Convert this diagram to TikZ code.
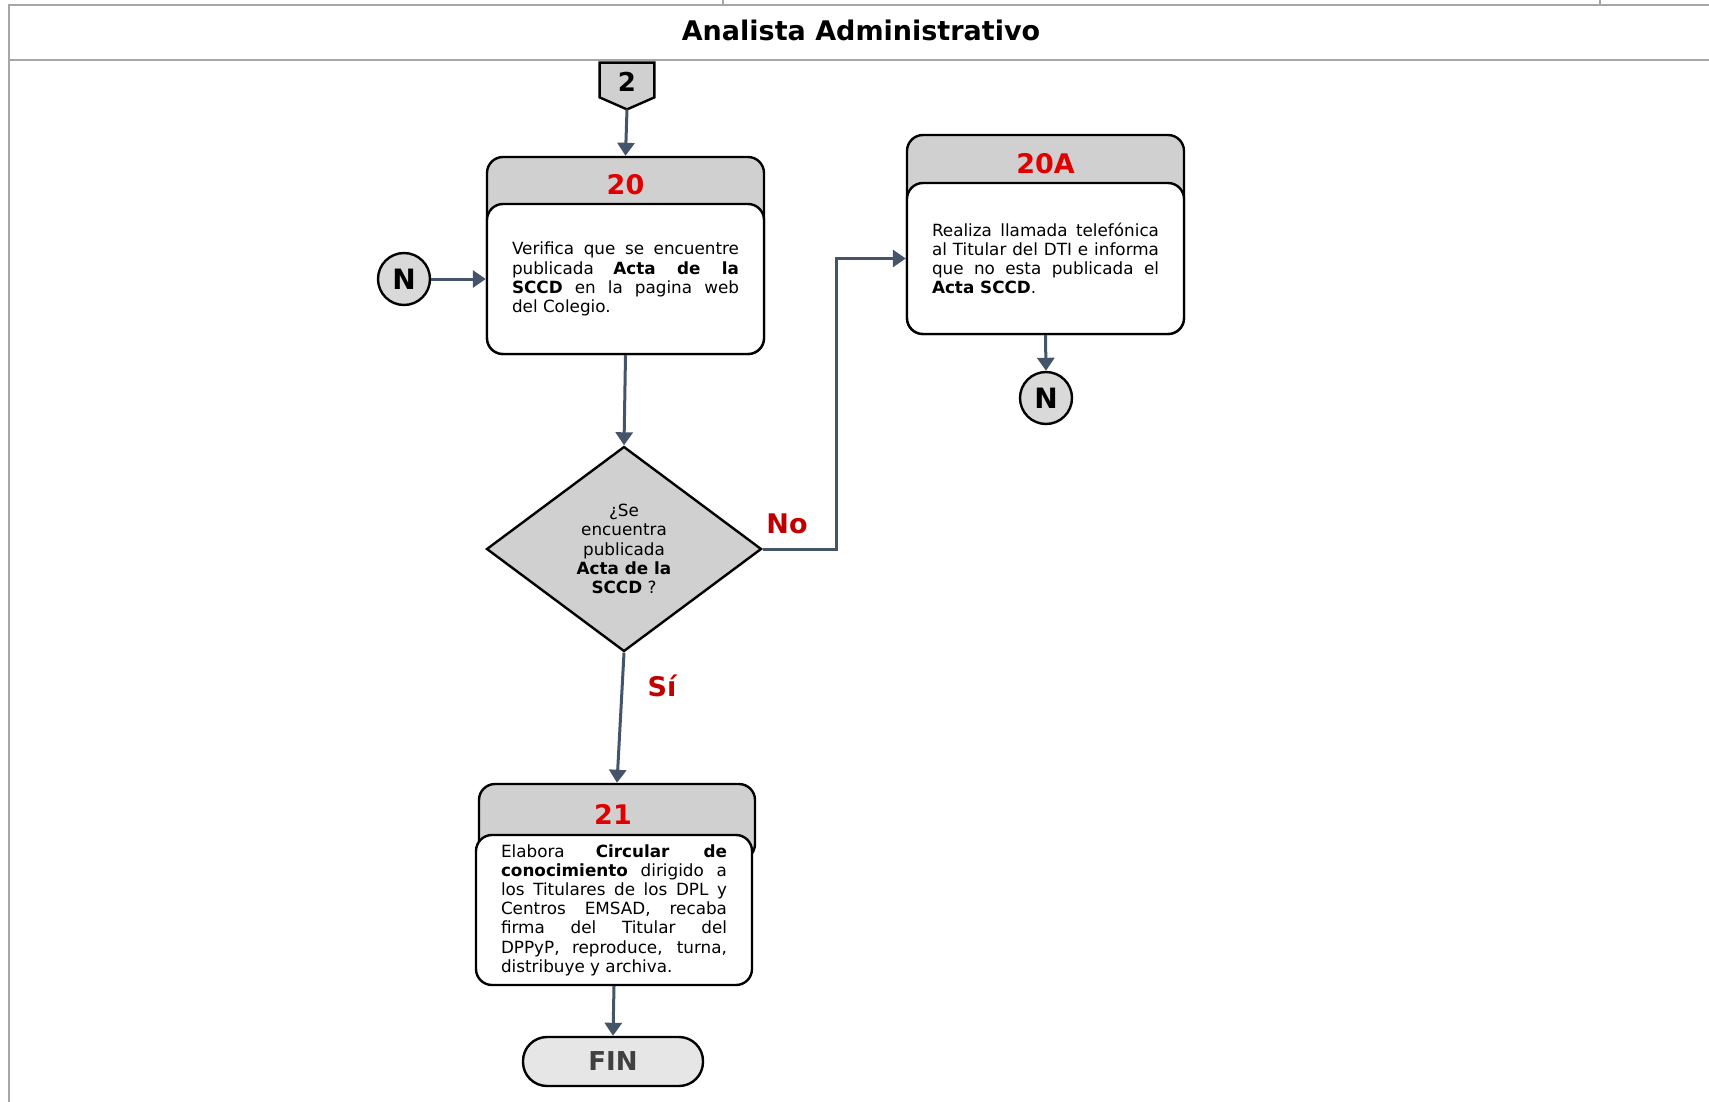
\documentclass[tikz,border=0pt]{standalone}
\usepackage{fontspec}
\setmainfont{DejaVu Sans}
\usetikzlibrary{arrows.meta,shapes.geometric}

\definecolor{framegray}{HTML}{A6A6A6}
\definecolor{hdrgray}{HTML}{D0D0D0}
\definecolor{circgray}{HTML}{D9D9D9}
\definecolor{fingray}{HTML}{E6E6E6}
\definecolor{fintext}{HTML}{404040}
\definecolor{flowc}{HTML}{44546A}
\definecolor{numred}{HTML}{E00000}
\definecolor{ansred}{HTML}{C00000}

\newcommand\bodyfont{\fontsize{8.4}{9.6}\selectfont}

\begin{document}
\begin{tikzpicture}[x=0.5pt,y=-0.5pt,
  hdrbox/.style={draw=black,fill=hdrgray,line width=1.2pt,rounded corners=8pt,
    minimum width=138.5pt,inner sep=0pt},
  bodybox/.style={draw=black,fill=white,line width=1.2pt,rounded corners=8pt,
    text width=113.5pt,inner xsep=12.5pt,inner ysep=0pt,minimum height=75pt,
    align=justify,font=\bodyfont},
  stepnum/.style={text=numred,font=\fontsize{13.5}{15}\selectfont\bfseries},
  answer/.style={text=ansred,font=\fontsize{13.5}{15}\selectfont\bfseries},
  conn/.style={circle,draw=black,fill=circgray,line width=1.2pt,minimum size=26pt,
    inner sep=0pt,font=\fontsize{14}{16}\selectfont\bfseries},
  flow/.style={draw=flowc,line width=1.5pt,-{Triangle[length=6.5pt,width=8.5pt]}},
  frameline/.style={draw=framegray,line width=1.2pt}]

\useasboundingbox (0,0) rectangle (1709,1102);

% page frame and lane header
\draw[frameline] (9,1102) -- (9,5) -- (1709,5);
\draw[frameline] (9,60) -- (1709,60);
\draw[frameline] (723,0) -- (723,5);
\draw[frameline] (1600,0) -- (1600,5);
\node[font=\fontsize{13.5}{15}\selectfont\bfseries] (title) at (861,30) {Analista Administrativo};

% off-page connector 2
\node[minimum width=27pt,minimum height=23pt,inner sep=0pt] (off2) at (627,86) {};
\draw[draw=black,fill=hdrgray,line width=1.2pt]
  (off2.north west) -- (off2.north east) -- ([yshift=6pt]off2.south east)
  -- (off2.south) -- ([yshift=6pt]off2.south west) -- cycle;
\node[font=\fontsize{13}{15}\selectfont\bfseries] (off2txt) at (627,82) {2};

% step 20
\node[hdrbox,minimum height=98.5pt] (b20) at (625.5,255.5) {};
\node[bodybox] (t20) at (625.5,279) {Verifica que se encuentre\linebreak
  publicada \textbf{Acta de la}\linebreak \textbf{SCCD} en la pagina web\linebreak
  del Colegio.};
\node[stepnum] (n20) at (625.5,185) {20};

% step 20A
\node[hdrbox,minimum height=99.5pt] (b20a) at (1045.5,234.5) {};
\node[bodybox,minimum height=75.5pt] (t20a) at (1045.5,258.5) {Realiza llamada telefónica\linebreak
  al Titular del DTI e informa\linebreak que no esta publicada el\linebreak
  \textbf{Acta SCCD}.};
\node[stepnum] (n20a) at (1045.5,164) {20A};

% decision
\node[diamond,draw=black,fill=hdrgray,line width=1.2pt,minimum width=137.5pt,
  minimum height=102.5pt,inner sep=0pt,align=center,font=\bodyfont] (dec) at (624,549)
  {¿Se\\encuentra\\publicada\\\textbf{Acta de la}\\\textbf{SCCD} ?};

% step 21
\node[hdrbox,minimum width=138pt,minimum height=38pt] (b21) at (617,822) {};
\node[bodybox,text width=113pt] (t21) at (614,910) {Elabora \textbf{Circular de}\linebreak
  \textbf{conocimiento} dirigido a\linebreak los Titulares de los DPL y\linebreak
  Centros EMSAD, recaba\linebreak firma del Titular del\linebreak
  DPPyP, reproduce, turna,\linebreak distribuye y archiva.};
\node[stepnum] (n21) at (613,814) {21};

% connectors and terminator
\node[conn] (c1) at (404,279) {N};
\node[conn] (c2) at (1046,398) {N};
\node[draw=black,fill=fingray,line width=1.2pt,rounded corners=12pt,minimum width=90pt,
  minimum height=24.5pt,text=fintext,font=\fontsize{13}{15}\selectfont\bfseries]
  (fin) at (613,1061.5) {FIN};

% flow lines
\draw[flow] (off2.south) -- (b20.north);
\draw[flow] (c1) -- (t20.west);
\draw[flow] (t20.south) -- (dec.north);
\draw[flow] (dec.east) -- ++(74,0) |- (t20a.west);
\draw[flow] (t20a.south) -- (c2.north);
\draw[flow] (dec.south) -- (b21.north);
\draw[flow] (t21.south) -- (fin.north);

% branch labels
\node[answer] (lno) at (787,524) {No};
\node[answer] (lsi) at (662,686) {Sí};

\end{tikzpicture}
\end{document}
